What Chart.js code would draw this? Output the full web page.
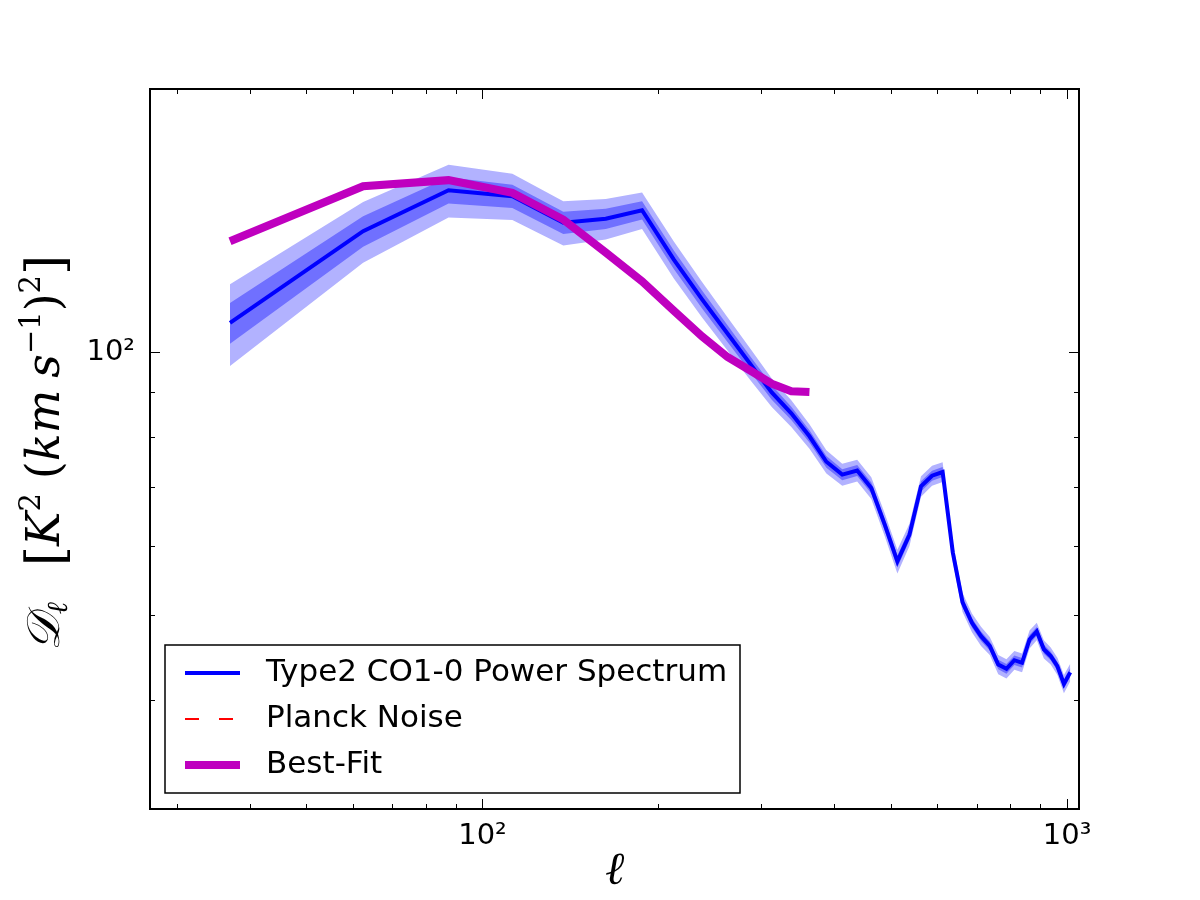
<!DOCTYPE html>
<html>
<head>
<meta charset="utf-8">
<script src="https://cdn.jsdelivr.net/npm/chart.js@4.4.1/dist/chart.umd.min.js"></script>
<style>
html,body{margin:0;padding:0;background:#ffffff;}
#wrap{width:1200px;height:900px;}
</style>
</head>
<body>
<div id="wrap"><canvas id="c" width="1200" height="900"></canvas></div>
<script>
// ---- data ----
const ells = [37, 62.5, 87.5, 112.5, 137.5, 162.5, 187.5, 212.5, 237.5, 262.5,
  287.5, 312.5, 337.5, 362.5, 387.5, 412.5, 437.5, 462.5, 487.5, 512.5,
  537.5, 562.5, 587.5, 612.5, 637.5, 662.5, 687.5, 712.5, 737.5, 762.5,
  787.5, 812.5, 837.5, 862.5, 887.5, 912.5, 937.5, 962.5, 987.5, 1012.5];
const powerSpectrum = [108.0, 137.5, 153.2, 150.8, 140.6, 142.1, 145.3, 127.6, 114.9, 105.0,
  96.8, 89.9, 85.1, 80.1, 74.9, 72.4, 73.2, 69.9, 63.5, 57.6,
  61.8, 70.2, 72.2, 72.9, 59.0, 51.7, 49.0, 47.3, 46.1, 43.9,
  43.4, 44.4, 44.1, 46.9, 47.9, 45.7, 44.9, 43.7, 41.7, 43.0];
const powerErr = [5.8, 5.5, 5.3, 4.6, 4.1, 3.8, 3.5, 3.1, 2.7, 2.3,
  2.0, 1.7, 1.5, 1.3, 1.15, 1.05, 1.05, 1.0, 0.95, 0.9,
  0.9, 0.95, 0.95, 0.95, 0.75, 0.65, 0.6, 0.6, 0.55, 0.55,
  0.55, 0.55, 0.55, 0.55, 0.55, 0.55, 0.5, 0.5, 0.5, 0.5];
const bestFitEll = [37, 62.5, 87.5, 112.5, 137.5, 162.5, 187.5, 212.5, 237.5, 262.5,
  287.5, 312.5, 337.5, 362.5];
const bestFit = [133.9, 154.8, 157.3, 152.1, 141.8, 130.0, 120.5, 111.5, 104.2, 98.7,
  95.2, 92.0, 90.2, 90.0];
const planckNoise = []; // listed in legend, no visible points in plotted range

const xTickValues = [30, 40, 50, 60, 70, 80, 90, 100, 200, 300, 400, 500, 600, 700, 800, 900, 1000];
const yTickValues = [30, 40, 50, 60, 70, 80, 90, 100, 200];
const xTickLabels = {100: '10²', 1000: '10³'};
const yTickLabels = {100: '10²'};

const seriesLabels = ['Type2 CO1-0 Power Spectrum', 'Planck Noise', 'Best-Fit'];
const xTitle = 'ℓ';
// y-axis title pieces:  𝒟ℓ  [K² (km s⁻¹)²]
const yTitleParts = ['𝒟', 'ℓ', '[', 'K', '2', '(', 'km', 's', '−1', ')', '2', ']'];

// ---- build datasets ----
const pts = (xs, ys) => xs.map((x, i) => ({x: x, y: ys[i]}));
const band = (k) => [
  pts(ells, powerSpectrum.map((v, i) => v + k * powerErr[i])),
  pts(ells, powerSpectrum.map((v, i) => v - k * powerErr[i]))
];
const [up2, lo2] = band(2);
const [up1, lo1] = band(1);

const LIGHT = 'rgb(178,178,255)';
const DARK = 'rgb(112,112,255)';
const base = {pointRadius: 0, pointHoverRadius: 0, tension: 0};
const clear = 'rgba(0,0,0,0)';

const datasets = [
  Object.assign({}, base, {label: '2sigma-up', data: up2, borderWidth: 0, borderColor: clear, backgroundColor: LIGHT, fill: '+1', order: 4}),
  Object.assign({}, base, {label: '2sigma-lo', data: lo2, borderWidth: 0, borderColor: clear, fill: false, order: 4}),
  Object.assign({}, base, {label: '1sigma-up', data: up1, borderWidth: 0, borderColor: clear, backgroundColor: DARK, fill: '+1', order: 3}),
  Object.assign({}, base, {label: '1sigma-lo', data: lo1, borderWidth: 0, borderColor: clear, fill: false, order: 3}),
  Object.assign({}, base, {label: seriesLabels[0], data: pts(ells, powerSpectrum), borderColor: '#0000ff', borderWidth: 4, fill: false, order: 2, legendItem: true}),
  Object.assign({}, base, {label: seriesLabels[1], data: planckNoise, borderColor: '#ff0000', borderWidth: 2, borderDash: [14, 20], fill: false, order: 1, legendItem: true}),
  Object.assign({}, base, {label: seriesLabels[2], data: pts(bestFitEll, bestFit), borderColor: '#bf00bf', borderWidth: 8, fill: false, order: 0, borderCapStyle: 'butt', legendItem: true})
];

// ---- plugins: frame with inward ticks, rich y title, boxed legend ----
const frameTicks = {
  id: 'frameTicks',
  afterDatasetsDraw(chart) {
    const {ctx, chartArea: a, scales: {x, y}} = chart;
    ctx.save();
    ctx.strokeStyle = '#000';
    ctx.lineWidth = 1;
    ctx.beginPath();
    x.ticks.forEach(t => {
      const px = Math.round(x.getPixelForValue(t.value)) + 0.5;
      const len = (t.value === 100 || t.value === 1000) ? 10 : 5;
      ctx.moveTo(px, a.bottom); ctx.lineTo(px, a.bottom - len);
      ctx.moveTo(px, a.top); ctx.lineTo(px, a.top + len);
    });
    y.ticks.forEach(t => {
      const py = Math.round(y.getPixelForValue(t.value)) + 0.5;
      const len = (t.value === 100) ? 10 : 5;
      ctx.moveTo(a.left, py); ctx.lineTo(a.left + len, py);
      ctx.moveTo(a.right, py); ctx.lineTo(a.right - len, py);
    });
    ctx.stroke();
    ctx.lineWidth = 2;
    ctx.strokeRect(a.left, a.top, a.right - a.left, a.bottom - a.top);
    ctx.restore();
  }
};

const richYTitle = {
  id: 'richYTitle',
  afterDraw(chart) {
    const ctx = chart.ctx;
    const a = chart.chartArea;
    const P = yTitleParts;
    const big = '46px "DejaVu Serif"', bigI = 'italic 46px "DejaVu Serif"';
    const sm = '29px "DejaVu Serif"', smI = 'italic 29px "DejaVu Serif"';
    const br = '52px "DejaVu Serif"';
    const segs = [
      {t: P[0], f: bigI, dy: 0},
      {t: P[1], f: smI, dy: 8},
      {gap: 36},
      {t: P[2], f: br, dy: 4},
      {t: P[3], f: bigI, dy: 0},
      {t: P[4], f: sm, dy: -19},
      {gap: 14},
      {t: P[5], f: big, dy: 0},
      {t: P[6], f: bigI, dy: 0},
      {gap: 12},
      {t: P[7], f: bigI, dy: 0},
      {t: P[8], f: sm, dy: -19},
      {t: P[9], f: big, dy: 0},
      {t: P[10], f: sm, dy: -19},
      {t: P[11], f: br, dy: 4}
    ];
    ctx.save();
    let total = 0;
    segs.forEach(s => {
      if (s.gap) { s.w = s.gap; } else { ctx.font = s.f; s.w = ctx.measureText(s.t).width; }
      total += s.w;
    });
    const cy = (a.top + a.bottom) / 2 + 4;
    ctx.translate(59, cy);
    ctx.rotate(-Math.PI / 2);
    ctx.fillStyle = '#000';
    ctx.textBaseline = 'alphabetic';
    ctx.textAlign = 'left';
    let xx = -total / 2;
    segs.forEach(s => {
      if (!s.gap) { ctx.font = s.f; ctx.fillText(s.t, xx, s.dy); }
      xx += s.w;
    });
    ctx.restore();
  }
};

const boxLegend = {
  id: 'boxLegend',
  afterDraw(chart) {
    const ctx = chart.ctx;
    const bx = 165, by = 645, bw = 575, bh = 148;
    const rowsY = [673, 719, 765];
    ctx.save();
    ctx.fillStyle = '#fff';
    ctx.fillRect(bx, by, bw, bh);
    ctx.strokeStyle = '#000';
    ctx.lineWidth = 1.5;
    ctx.strokeRect(bx, by, bw, bh);
    const items = chart.data.datasets.filter(d => d.legendItem);
    items.forEach((d, i) => {
      const yy = rowsY[i];
      ctx.beginPath();
      ctx.strokeStyle = d.borderColor;
      ctx.lineWidth = d.borderWidth;
      ctx.setLineDash(d.borderDash || []);
      ctx.lineCap = 'butt';
      ctx.moveTo(185, yy); ctx.lineTo(240, yy);
      ctx.stroke();
      ctx.setLineDash([]);
      ctx.fillStyle = '#000';
      ctx.font = '31px "DejaVu Sans"';
      ctx.textBaseline = 'middle';
      ctx.textAlign = 'left';
      ctx.fillText(d.label, 266, yy);
    });
    ctx.restore();
  }
};

Chart.defaults.font.family = '"DejaVu Sans"';
Chart.defaults.color = '#000';

new Chart(document.getElementById('c'), {
  type: 'line',
  data: {datasets: datasets},
  options: {
    responsive: false,
    animation: false,
    devicePixelRatio: 1,
    layout: {padding: {left: 0, top: 89, right: 121, bottom: 0}},
    plugins: {legend: {display: false}, tooltip: {enabled: false}},
    scales: {
      x: {
        type: 'logarithmic',
        position: 'bottom',
        min: 27.0,
        max: 1048,
        grid: {display: false, drawTicks: false},
        border: {display: false},
        afterBuildTicks: s => { s.ticks = xTickValues.map(v => ({value: v})); },
        afterFit: s => { s.height = 91; },
        ticks: {
          autoSkip: false, maxRotation: 0, minRotation: 0, padding: 10,
          font: {size: 29, family: '"DejaVu Sans"'}, color: '#000',
          callback: v => xTickLabels[v] || ''
        },
        title: {display: true, text: xTitle, color: '#000',
          font: {size: 46, family: '"DejaVu Serif"', style: 'italic'}, padding: {top: 0, bottom: 0}}
      },
      y: {
        type: 'logarithmic',
        position: 'left',
        min: 30,
        max: 200,
        grid: {display: false, drawTicks: false},
        border: {display: false},
        afterBuildTicks: s => { s.ticks = yTickValues.map(v => ({value: v})); },
        afterFit: s => { s.width = 150; },
        ticks: {
          autoSkip: false, padding: 15,
          font: {size: 29, family: '"DejaVu Sans"'}, color: '#000',
          callback: v => yTickLabels[v] || ''
        },
        title: {display: false}
      }
    }
  },
  plugins: [frameTicks, richYTitle, boxLegend]
});
</script>
</body>
</html>
